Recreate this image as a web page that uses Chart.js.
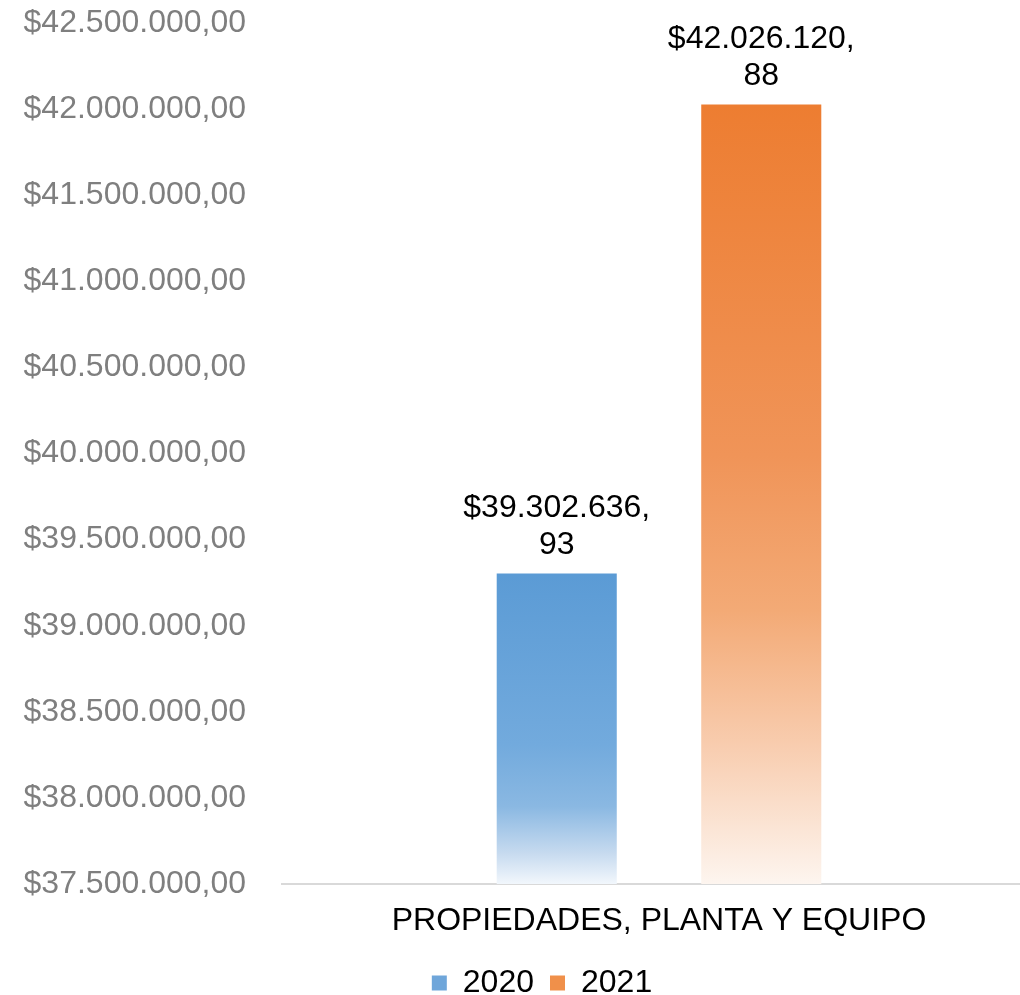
<!DOCTYPE html>
<html>
<head>
<meta charset="utf-8">
<script src="https://cdn.jsdelivr.net/npm/chart.js@4"></script>
<style>
  html, body { margin: 0; padding: 0; background: #fff; overflow: hidden; }
  #wrap { width: 1036px; height: 995px; position: relative; }
</style>
</head>
<body>
<div id="wrap"><canvas id="chart"></canvas></div>
<script>
// data
const categories = ["PROPIEDADES, PLANTA Y EQUIPO"];
const seriesNames = ["2020", "2021"];
const values2020 = [39302636.93];
const values2021 = [42026120.88];
const yMin = 37500000;
const yMax = 42500000;
const yStep = 500000;

const FONT = "'Liberation Sans', Arial, sans-serif";
const FS = 32;

// $42.500.000,00 style
function fmtMoney(v) {
    const parts = Math.abs(v).toFixed(2).split(".");
    const intPart = parts[0].replace(/\B(?=(\d{3})+(?!\d))/g, ".");
    return "$" + intPart + "," + parts[1];
}

// gradient stops per series (bar top -> plot bottom)
const blueStops = [[0, "#5b9bd5"], [0.55, "#72aadd"], [0.75, "#8ab8e2"], [0.9, "#c6daef"], [1, "#f2f7fc"]];
const orangeStops = [[0, "#ed7d31"], [0.45, "#f09458"], [0.65, "#f3aa76"], [0.82, "#f8ccae"], [1, "#fdf5ef"]];

function barGradient(stops, solid) {
    return function(ctx) {
        const chart = ctx.chart;
        const area = chart.chartArea;
        if (!area || ctx.type !== "data") return solid;
        const top = chart.scales.y.getPixelForValue(ctx.raw);
        const g = chart.ctx.createLinearGradient(0, top, 0, area.bottom);
        stops.forEach(s => g.addColorStop(s[0], s[1]));
        return g;
    };
}

// two-line value labels above bars, like "$39.302.636," / "93"
const valueLabels = {
    id: "valueLabels",
    afterDatasetsDraw(chart) {
        const c = chart.ctx;
        c.save();
        c.font = FS + "px " + FONT;
        c.fillStyle = "#000";
        c.textAlign = "center";
        c.textBaseline = "middle";
        chart.data.datasets.forEach((ds, i) => {
            chart.getDatasetMeta(i).data.forEach((bar, j) => {
                const txt = fmtMoney(ds.data[j]);
                const cut = txt.indexOf(",") + 1;
                c.fillText(txt.slice(0, cut), bar.x, bar.y - 65);
                c.fillText(txt.slice(cut), bar.x, bar.y - 28);
            });
        });
        c.restore();
    }
};

// fixed legend strip height, nudged right like the original
const legendTweak = {
    id: "legendTweak",
    afterInit(chart) {
        const lg = chart.legend;
        const orig = lg.fit.bind(lg);
        lg.fit = function() { orig(); this.height = 44; };
    },
    afterLayout(chart) {
        chart.legend.left += 24;
        chart.legend.right += 24;
    }
};

new Chart(document.getElementById("chart"), {
    type: "bar",
    data: {
        labels: categories,
        datasets: [
            { label: seriesNames[0], data: values2020, backgroundColor: barGradient(blueStops, "#6fa6da"), borderWidth: 0 },
            { label: seriesNames[1], data: values2021, backgroundColor: barGradient(orangeStops, "#f0904a"), borderWidth: 0 }
        ]
    },
    options: {
        responsive: true,
        maintainAspectRatio: false,
        animation: false,
        categoryPercentage: 0.5425,
        barPercentage: 0.587,
        layout: { padding: 0 },
        plugins: {
            tooltip: { enabled: false },
            legend: {
                position: "bottom",
                labels: {
                    font: { family: FONT, size: FS },
                    color: "#000",
                    boxWidth: 15,
                    boxHeight: 15,
                    padding: 16,
                    generateLabels(chart) {
                        const solids = ["#6fa6da", "#f0904a"];
                        return chart.data.datasets.map((ds, i) => ({
                            text: ds.label,
                            fillStyle: solids[i],
                            strokeStyle: solids[i],
                            lineWidth: 0,
                            datasetIndex: i,
                            fontColor: "#000"
                        }));
                    }
                }
            }
        },
        scales: {
            x: {
                grid: { display: false, drawTicks: false },
                border: { display: true, color: "#d9d9d9", width: 2 },
                ticks: { font: { family: FONT, size: FS }, color: "#000", padding: 18 },
                afterFit(scale) { scale.height = 67; }
            },
            y: {
                min: yMin,
                max: yMax,
                grid: { display: false, drawTicks: false },
                border: { display: false },
                ticks: {
                    stepSize: yStep,
                    font: { family: FONT, size: FS },
                    color: "#7f7f7f",
                    padding: 36,
                    callback: v => fmtMoney(v)
                },
                afterFit(scale) {
                    scale.width = 282;
                    scale.paddingTop = 23;
                }
            }
        }
    },
    plugins: [valueLabels, legendTweak]
});
</script>
</body>
</html>
